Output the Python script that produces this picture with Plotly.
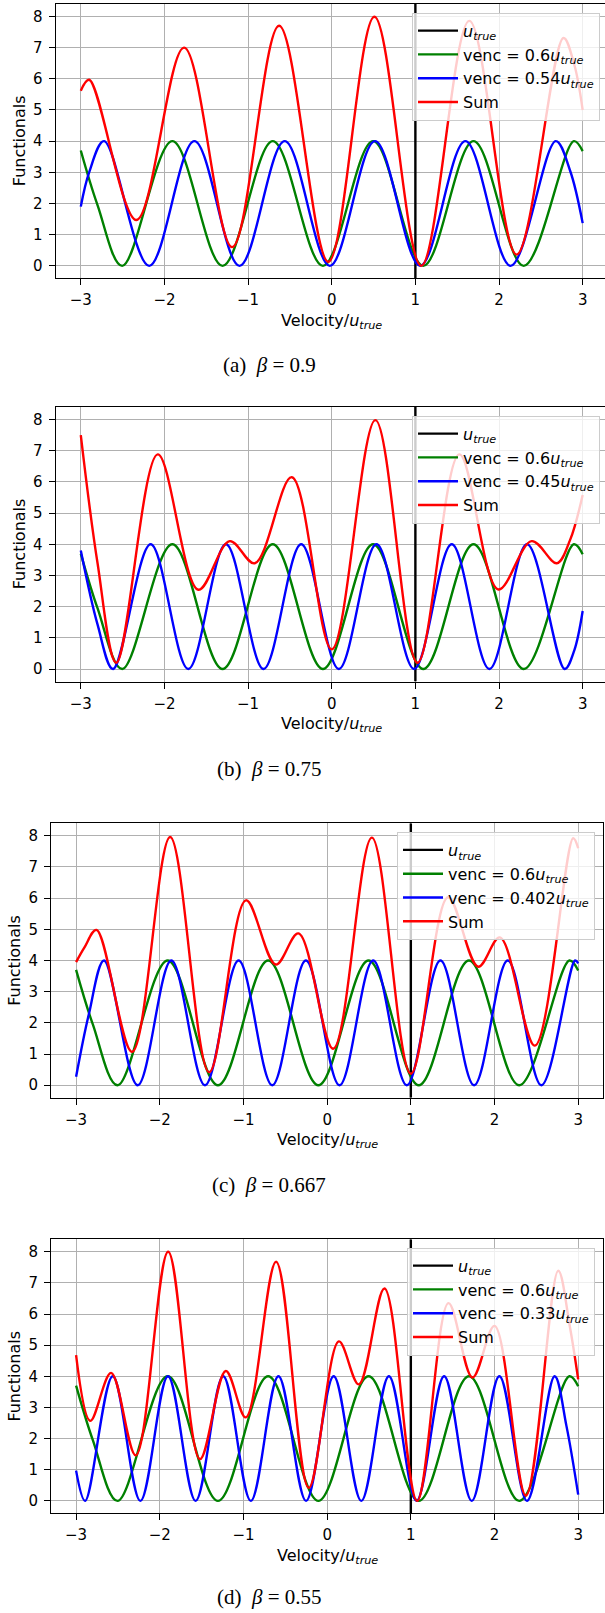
import plotly.graph_objects as go

# ---------------- data ----------------
X_TICKS = [-3, -2, -1, 0, 1, 2, 3]
Y_TICKS = [0, 1, 2, 3, 4, 5, 6, 7, 8]
U_TRUE = 1.0
PANEL_LABELS = ["(a)", "(b)", "(c)", "(d)"]
BETAS = ["0.9", "0.75", "0.667", "0.55"]
VENC_REF = "0.6"
VENC_VALUES = ["0.54", "0.45", "0.402", "0.33"]

# green curve (venc = 0.6 u_true), identical in every panel: extrema + end points
GREEN_X = [-3.0, -2.8, -2.505, -1.905, -1.305, -0.705, -0.105, 0.495, 1.095, 1.695, 2.295, 2.895, 3.0]
GREEN_Y = [3.70, 1.95, 0.0, 4.0, 0.0, 4.0, 0.0, 4.0, 0.0, 4.0, 0.0, 4.0, 3.68]

# (a) beta = 0.9
BLUE_A_X = [-3.0, -2.9, -2.722, -2.182, -1.642, -1.102, -0.562, -0.022, 0.518, 1.058, 1.598, 2.138, 2.678, 2.85, 3.0]
BLUE_A_Y = [1.90, 3.0, 4.0, 0.0, 4.0, 0.0, 4.0, 0.0, 4.0, 0.0, 4.0, 0.0, 4.0, 3.05, 1.37]
SUM_A_X = [-3.0, -2.90, -2.335, -1.765, -1.19, -0.629, -0.04, 0.51, 1.07, 1.645, 2.21, 2.77, 2.9, 3.0]
SUM_A_Y = [5.62, 5.97, 1.47, 7.0, 0.6, 7.7, 0.13, 7.99, 0.0, 7.86, 0.36, 7.31, 6.45, 5.0]

# (b) beta = 0.75
BLUE_B_X = [-3.0, -2.8, -2.615, -2.165, -1.715, -1.265, -0.815, -0.365, 0.085, 0.535, 0.985, 1.435, 1.885, 2.335, 2.785, 2.9, 3.0]
BLUE_B_Y = [3.80, 1.43, 0.0, 4.0, 0.0, 4.0, 0.0, 4.0, 0.0, 4.0, 0.0, 4.0, 0.0, 4.0, 0.0, 0.6, 1.86]
SUM_B_X = [-3.0, -2.8, -2.575, -2.08, -1.594, -1.22, -0.92, -0.478, 0.0, 0.522, 1.025, 1.525, 1.992, 2.39, 2.69, 2.85, 3.0]
SUM_B_Y = [7.5, 3.4, 0.2, 6.88, 2.54, 4.1, 3.39, 6.15, 0.63, 7.98, 0.2, 6.88, 2.55, 4.1, 3.39, 4.14, 5.58]

# (c) beta = 0.667
BLUE_C_X = [-3.0, -2.85, -2.666, -2.264, -1.862, -1.46, -1.058, -0.656, -0.254, 0.148, 0.55, 0.952, 1.354, 1.756, 2.158, 2.56, 2.962, 3.0]
BLUE_C_Y = [0.27, 2.25, 4.0, 0.0, 4.0, 0.0, 4.0, 0.0, 4.0, 0.0, 4.0, 0.0, 4.0, 0.0, 4.0, 0.0, 4.0, 3.91]
SUM_C_X = [-3.0, -2.9, -2.757, -2.331, -1.876, -1.41, -0.97, -0.614, -0.343, 0.072, 0.534, 1.0, 1.445, 1.805, 2.064, 2.482, 2.94, 3.0]
SUM_C_Y = [3.95, 4.42, 4.98, 1.07, 7.96, 0.42, 5.93, 3.87, 4.87, 1.17, 7.94, 0.37, 6.03, 3.8, 4.74, 1.27, 7.92, 7.6]

# (d) beta = 0.55
BLUE_D_X = [-3.0, -2.892, -2.562, -2.232, -1.902, -1.572, -1.242, -0.912, -0.582, -0.252, 0.078, 0.408, 0.738, 1.068, 1.398, 1.728, 2.058, 2.388, 2.718, 2.86, 3.0]
BLUE_D_Y = [0.97, 0.0, 4.0, 0.0, 4.0, 0.0, 4.0, 0.0, 4.0, 0.0, 4.0, 0.0, 4.0, 0.0, 4.0, 0.0, 4.0, 0.0, 4.0, 2.4, 0.2]
SUM_D_X = [-3.0, -2.83, -2.582, -2.287, -1.90, -1.52, -1.211, -0.972, -0.61, -0.22, 0.14, 0.378, 0.685, 1.075, 1.45, 1.737, 2.0, 2.375, 2.761, 2.9, 3.0]
SUM_D_Y = [4.68, 2.57, 4.11, 1.46, 8.0, 1.34, 4.17, 2.68, 7.68, 0.42, 5.12, 3.74, 6.82, 0.0, 6.35, 3.96, 5.62, 0.17, 7.39, 5.6, 3.9]

BLUE_X = [BLUE_A_X, BLUE_B_X, BLUE_C_X, BLUE_D_X]
BLUE_Y = [BLUE_A_Y, BLUE_B_Y, BLUE_C_Y, BLUE_D_Y]
SUM_X = [SUM_A_X, SUM_B_X, SUM_C_X, SUM_D_X]
SUM_Y = [SUM_A_Y, SUM_B_Y, SUM_C_Y, SUM_D_Y]

# ---------------- layout / style (pixels) ----------------
W, H = 605, 1613
Y_RANGE = [-0.4, 8.4]
X_MIN = -3.3
GEOM = [
    dict(top=4.0, bottom=278.3, left=55.7, right=605.0, xmax=3.267, rframe=False, leg_r=600, leg_t=12.7, ylab=19.0, xmid=331.7),
    dict(top=407.0, bottom=681.5, left=55.7, right=605.0, xmax=3.267, rframe=False, leg_r=600, leg_t=415.7, ylab=19.0, xmid=331.7),
    dict(top=823.3, bottom=1097.7, left=51.0, right=603.3, xmax=3.3, rframe=True, leg_r=595, leg_t=832.0, ylab=14.3, xmid=327.2),
    dict(top=1239.3, bottom=1513.3, left=51.0, right=603.3, xmax=3.3, rframe=True, leg_r=595, leg_t=1247.7, ylab=14.3, xmid=327.2),
]
CAPTION_X = 269
SANS = "DejaVu Sans"
SERIF = "Liberation Serif"
U_LABEL = "<i>u</i><sub><i>true</i></sub>"
LW = 2.4

fig = go.Figure()
annotations = []
layout = dict(
    width=W, height=H, autosize=False,
    margin=dict(l=0, r=0, t=0, b=0, pad=0),
    paper_bgcolor="white", plot_bgcolor="white",
    font=dict(family=SANS, size=15, color="black"),
)

for i, g in enumerate(GEOM):
    n = "" if i == 0 else str(i + 1)
    xref, yref = "x" + n, "y" + n
    leg = "legend" + n
    fig.add_trace(go.Scatter(x=[U_TRUE, U_TRUE], y=Y_RANGE, mode="lines",
                             line=dict(color="black", width=LW), name=U_LABEL,
                             xaxis=xref, yaxis=yref, legend=leg))
    fig.add_trace(go.Scatter(x=GREEN_X, y=GREEN_Y, mode="lines",
                             line=dict(color="#008000", width=LW, shape="spline", smoothing=1),
                             name="venc = " + VENC_REF + U_LABEL,
                             xaxis=xref, yaxis=yref, legend=leg))
    fig.add_trace(go.Scatter(x=BLUE_X[i], y=BLUE_Y[i], mode="lines",
                             line=dict(color="#0000ff", width=LW, shape="spline", smoothing=1),
                             name="venc = " + VENC_VALUES[i] + U_LABEL,
                             xaxis=xref, yaxis=yref, legend=leg))
    fig.add_trace(go.Scatter(x=SUM_X[i], y=SUM_Y[i], mode="lines",
                             line=dict(color="#ff0000", width=LW, shape="spline", smoothing=1),
                             name="Sum",
                             xaxis=xref, yaxis=yref, legend=leg))

    axis_common = dict(
        showline=True, linecolor="black", linewidth=1.1,
        showgrid=True, gridcolor="#b0b0b0", gridwidth=1.1,
        zeroline=False, ticks="outside", ticklen=6, tickwidth=1.1, tickcolor="black",
        tickfont=dict(family=SANS, size=15, color="black"),
        fixedrange=True,
    )
    layout["xaxis" + n] = dict(
        axis_common, domain=[g["left"] / W, g["right"] / W], anchor=yref,
        range=[X_MIN, g["xmax"]], tickvals=X_TICKS, mirror=True, ticklabelstandoff=2,
    )
    layout["yaxis" + n] = dict(
        axis_common, domain=[1 - g["bottom"] / H, 1 - g["top"] / H], anchor=xref,
        range=Y_RANGE, tickvals=Y_TICKS, mirror=g["rframe"], ticklabelstandoff=3,
    )
    layout[leg] = dict(
        x=g["leg_r"] / W, y=1 - g["leg_t"] / H, xanchor="right", yanchor="top",
        bgcolor="rgba(255,255,255,0.8)", bordercolor="#cccccc", borderwidth=1,
        font=dict(family=SANS, size=16, color="black"), itemwidth=40,
        traceorder="normal",
    )

    mid_y = (g["top"] + g["bottom"]) / 2
    annotations.append(dict(text="Functionals", xref="paper", yref="paper",
                            x=g["ylab"] / W, y=1 - mid_y / H, textangle=-90,
                            showarrow=False, xanchor="center", yanchor="middle",
                            font=dict(family=SANS, size=16, color="black")))
    annotations.append(dict(text="Velocity/" + U_LABEL, xref="paper", yref="paper",
                            x=g["xmid"] / W, y=1 - (g["bottom"] + 43) / H,
                            showarrow=False, xanchor="center", yanchor="middle",
                            font=dict(family=SANS, size=16, color="black")))
    cap_y = min(g["bottom"] + 87, H - 16.5)
    annotations.append(dict(text=PANEL_LABELS[i] + "\u2002<i>\u03b2</i> = " + BETAS[i],
                            xref="paper", yref="paper",
                            x=CAPTION_X / W, y=1 - cap_y / H,
                            showarrow=False, xanchor="center", yanchor="middle",
                            font=dict(family=SERIF, size=21, color="black")))

layout["annotations"] = annotations
layout["showlegend"] = True
fig.update_layout(**layout)
fig.write_html("out.html")
